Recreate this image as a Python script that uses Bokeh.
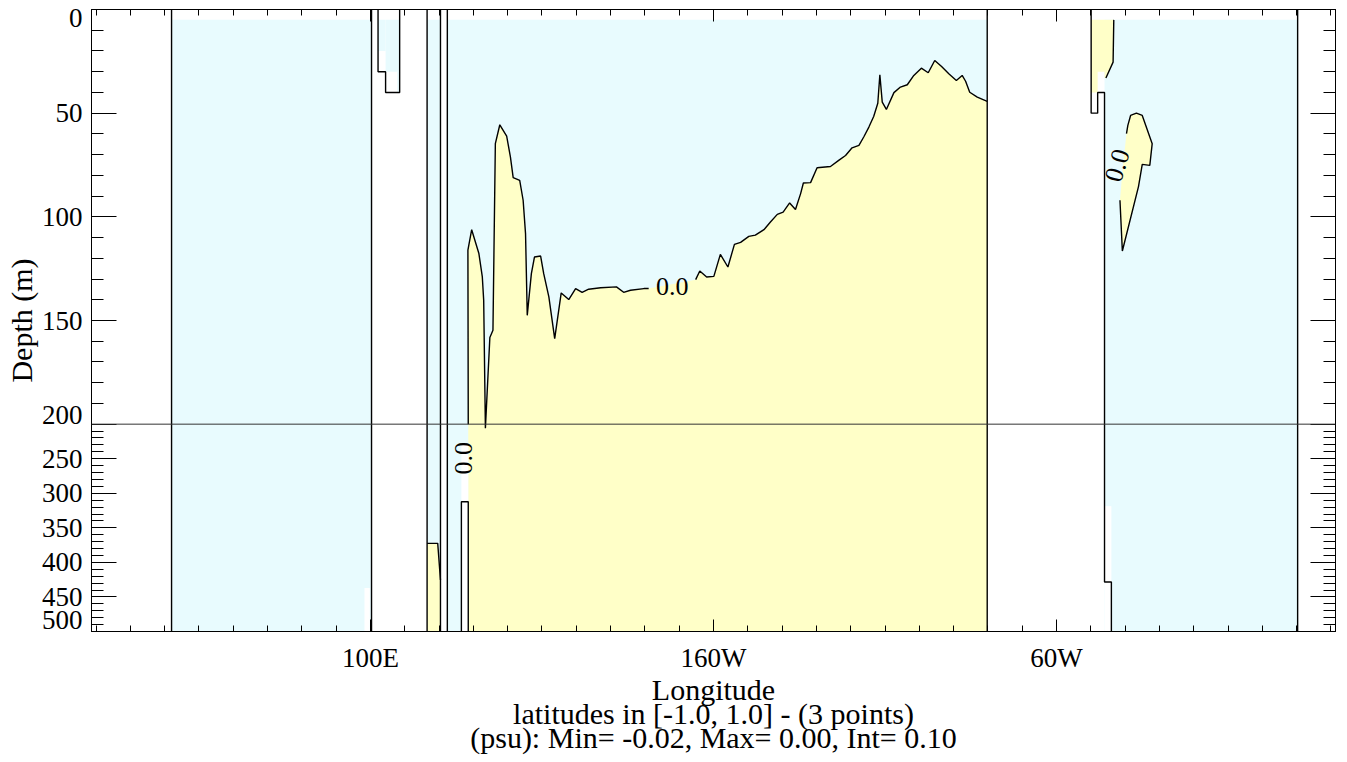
import numpy as np
from bokeh.plotting import figure
from bokeh.models import Range1d, FixedTicker, LinearAxis, Span
from bokeh.core.properties import value
from bokeh.embed import file_html
from bokeh.resources import INLINE

FONT = "Liberation Serif"
CYAN = "#E8FBFE"
YELLOW = "#FFFFC8"

# ---------------- data ----------------
x_ticks = [100, 200, 300]
x_tick_labels = ["100E", "160W", "60W"]
x_minor = list(range(20, 381, 10))
depth_ticks = [0, 50, 100, 150, 200, 250, 300, 350, 400, 450, 500]
depth_minor = list(range(0, 501, 10))

# main 0.0 contour (Pacific), split around its label
main_lon_a = [128.5, 128.4, 129.5, 131.6, 132.6, 133.0, 133.5, 134.8, 135.7, 136.4,
              137.7, 139.7, 140.8, 141.6, 143.5, 144.5, 145.2, 145.7, 146.9, 147.8,
              149.6, 150.5, 152.0, 153.7, 155.6, 157.8, 159.8, 161.7, 163.6, 167.1,
              171.7, 173.8, 175.8, 179.7, 181.1]
main_dep_a = [200, 116.1, 106.2, 117.7, 129.0, 140.2, 205.8, 158.2, 154.7, 64.7,
              55.6, 61.1, 71.2, 81.1, 82.4, 92.0, 108.1, 147.5, 127.4, 119.4,
              118.9, 127.4, 138.6, 158.7, 136.7, 139.9, 134.6, 136.4, 134.9, 134.2,
              133.8, 136.4, 135.4, 134.6, 134.6]
main_lon_b = [194.8, 196.0, 198.0, 200.1, 202.0, 204.2, 206.1, 207.9, 210.3, 212.2,
              214.7, 216.6, 218.6, 220.3, 222.2, 223.9, 225.4, 226.2, 228.3, 230.2,
              234.1, 236.5, 238.5, 240.4, 242.4, 243.8, 245.3, 246.7, 247.9, 248.5,
              249.2, 250.4, 252.6, 254.5, 256.5, 258.4, 260.6, 262.6, 264.5, 266.5,
              268.6, 270.8, 272.5, 273.5, 274.7, 276.9, 279.8]
main_dep_b = [130.3, 126.1, 129.0, 128.7, 118.1, 124.2, 113.3, 112.3, 109.4, 108.8,
              106.2, 102.5, 98.8, 97.7, 93.3, 96.5, 88.8, 83.7, 83.5, 76.3,
              75.7, 72.8, 70.4, 66.7, 65.5, 61.5, 56.7, 51.6, 45.2, 31.5,
              44.7, 48.2, 40.1, 37.4, 36.3, 31.8, 28.3, 30.5, 24.6, 27.5,
              31.0, 34.2, 31.8, 34.6, 39.9, 42.3, 44.3]

# Atlantic tongue contour
tongue_lon = [320.4, 320.8, 321.6, 323.3, 325.0, 327.9, 327.2, 325.0, 323.9, 319.2, 318.5]
tongue_dep = [59.9, 55.9, 51.1, 50.0, 51.1, 64.7, 75.2, 74.7, 85.4, 116.5, 92.0]
tongue_fill_lon = [319.2, 318.5, 319.4, 320.4, 320.8, 321.6, 323.3, 325.0, 327.9, 327.2, 325.0, 323.9]
tongue_fill_dep = [116.5, 92.0, 75.0, 59.9, 55.9, 51.1, 50.0, 51.1, 64.7, 75.2, 74.7, 85.4]

# Atlantic surface contour + fill
atl_top_lon = [316.7, 316.5, 314.4]
atl_top_dep = [5, 25.4, 33.0]
atl_fill_lon = [310.1, 316.7, 316.5, 314.4, 314.0, 314.0, 312.0, 312.0, 310.1]
atl_fill_dep = [5, 5, 25.4, 33.0, 33.0, 30.0, 30.0, 40.0, 40.0]

# strait contour + fill
strait_lon = [116.5, 119.6, 120.4]
strait_dep = [372.5, 372.5, 425.5]
strait_fill_lon = [116.5, 119.6, 120.4, 120.4, 116.5]
strait_fill_dep = [372.5, 372.5, 425.5, 500, 500]

# water (negative) cells: left, right, top depth, bottom depth
water_l = [42.0, 102.2, 104.4, 107.8, 116.5, 122.4, 314.0]
water_r = [100.3, 104.4, 108.5, 108.5, 120.4, 279.8, 370.3]
water_t = [5, 5, 5, 30, 5, 5, 5]
water_b = [500, 20, 30, 40, 500, 500, 500]

# missing / land cells inside water areas
gap_l = [98.25, 126.5, 314.0]
gap_r = [99.8, 128.5, 316.0]
gap_t = [437.0, 227.5, 318.6]
gap_b = [500, 500, 500]

# coast / mask outlines
coast_lon = [[42.0, 42.0], [100.3, 100.3],
             [102.2, 102.2, 104.4, 104.4, 108.5, 108.5],
             [116.5, 116.5], [120.4, 120.4], [122.4, 122.4],
             [126.5, 126.5, 128.5, 128.5], [279.8, 279.8],
             [310.1, 310.1, 312.0, 312.0, 314.0, 314.0, 316.0, 316.0],
             [370.3, 370.3]]
coast_dep = [[0, 500], [0, 500],
             [0, 30, 30, 40, 40, 0],
             [0, 500], [0, 500], [0, 500],
             [500, 312.3, 312.3, 500], [0, 500],
             [0, 50, 50, 40, 40, 428.4, 428.4, 500],
             [0, 500]]

# contour labels
clab_lon = [188.0, 127.1, 317.7]
clab_dep = [133.5, 249.2, 75.2]
clab_ang = [0.0, np.pi / 2, 1.28]
clab_txt = ["0.0", "0.0", "0.0"]

x_title = "Longitude\nlatitudes in [-1.0, 1.0] - (3 points)\n(psu): Min= -0.02, Max= 0.00, Int= 0.10"
y_title = "Depth (m)"


def t(d):
    """stretched depth axis: 0-200 m at 3 units/m, 200-500 m at 1 unit/m"""
    return 3 * d if d <= 200 else 600 + (d - 200)


def tv(ds):
    return [t(d) for d in ds]


X0, X1 = 18.66, 381.34
UNITS_PER_PX = 900 / 622.0

p = figure(width=1345, height=760, x_range=Range1d(X0, X1), y_range=Range1d(900, 0),
           output_backend="svg", toolbar_location=None, y_axis_location=None,
           min_border_left=91, min_border_right=10, min_border_top=9, min_border_bottom=129)
p.grid.visible = False
p.outline_line_color = "black"
p.outline_line_width = 1
p.background_fill_color = "white"
p.border_fill_color = "white"

# fills
p.quad(left=water_l, right=water_r, top=tv(water_t), bottom=tv(water_b),
       fill_color=CYAN, line_color=None)
p.patches(xs=[main_lon_a + main_lon_b + [279.8, 128.5], strait_fill_lon, atl_fill_lon, tongue_fill_lon],
          ys=[tv(main_dep_a + main_dep_b + [500, 500]), tv(strait_fill_dep), tv(atl_fill_dep), tv(tongue_fill_dep)],
          fill_color=YELLOW, line_color=None)
p.quad(left=gap_l, right=gap_r, top=tv(gap_t), bottom=tv(gap_b), fill_color="white", line_color=None)

# lines
p.multi_line(xs=coast_lon, ys=[tv(d) for d in coast_dep], line_color="black", line_width=1.4)
p.multi_line(xs=[main_lon_a, main_lon_b, tongue_lon, atl_top_lon, strait_lon],
             ys=[tv(main_dep_a), tv(main_dep_b), tv(tongue_dep), tv(atl_top_dep), tv(strait_dep)],
             line_color="black", line_width=1.4)
p.add_layout(Span(location=t(200), dimension="width", line_color="#333333", line_width=1))

p.text(x=clab_lon, y=tv(clab_dep), text=clab_txt, angle=clab_ang,
       text_font=value(FONT), text_font_size="26px", text_align="center",
       text_baseline="middle", text_color="black")

# ---------------- axes ----------------
xt = FixedTicker(ticks=x_ticks, minor_ticks=x_minor)
yt = FixedTicker(ticks=tv(depth_ticks), minor_ticks=tv(depth_minor))

xa = p.xaxis[0]
xa.ticker = xt
xa.major_label_overrides = {k: v for k, v in zip(x_ticks, x_tick_labels)}
xa.major_tick_in = 12
xa.major_tick_out = 0
xa.minor_tick_in = 6
xa.minor_tick_out = 0
xa.major_label_standoff = 11
xa.major_label_text_font = FONT
xa.major_label_text_font_size = "27px"
xa.major_label_text_color = "black"
xa.axis_line_color = "black"
xa.axis_label = x_title
xa.axis_label_text_font = FONT
xa.axis_label_text_font_size = "30px"
xa.axis_label_text_font_style = "normal"
xa.axis_label_text_color = "black"
xa.axis_label_text_line_height = 0.74
xa.axis_label_standoff = -3

# tick marks on all four sides (no labels)
top = LinearAxis(ticker=xt, major_tick_in=12, major_tick_out=0, minor_tick_in=6, minor_tick_out=0,
                 major_label_text_color=None, axis_line_color="black")
p.add_layout(top, "above")
right = LinearAxis(ticker=yt, major_tick_in=25, major_tick_out=0, minor_tick_in=12, minor_tick_out=0,
                   major_label_text_color=None, axis_line_color="black")
p.add_layout(right, "right")
left_ticks = LinearAxis(ticker=yt, major_tick_in=25, major_tick_out=0, minor_tick_in=12, minor_tick_out=0,
                        major_label_text_color=None, axis_line_color="black")
p.add_layout(left_ticks, "left")

# depth labels (IDL staggers the ones at panel edges); nudges are in screen px
nudge_px = {0: 9, 200: -9, 500: -11.5}
lab_pos = [int(round(t(d) + nudge_px.get(d, 0) * UNITS_PER_PX)) for d in depth_ticks]
left_labels = LinearAxis(ticker=FixedTicker(ticks=lab_pos, minor_ticks=[]),
                         major_tick_in=0, major_tick_out=0, minor_tick_in=0, minor_tick_out=0,
                         major_tick_line_color=None, minor_tick_line_color=None,
                         axis_line_color=None,
                         major_label_overrides={k: str(d) for k, d in zip(lab_pos, depth_ticks)},
                         major_label_standoff=9, major_label_text_font=FONT,
                         major_label_text_font_size="27px", major_label_text_color="black",
                         axis_label=y_title, axis_label_text_font=FONT,
                         axis_label_text_font_size="30px", axis_label_text_font_style="normal",
                         axis_label_text_color="black", axis_label_standoff=1)
p.add_layout(left_labels, "left")

open("out.html", "w").write(file_html(p, INLINE))
